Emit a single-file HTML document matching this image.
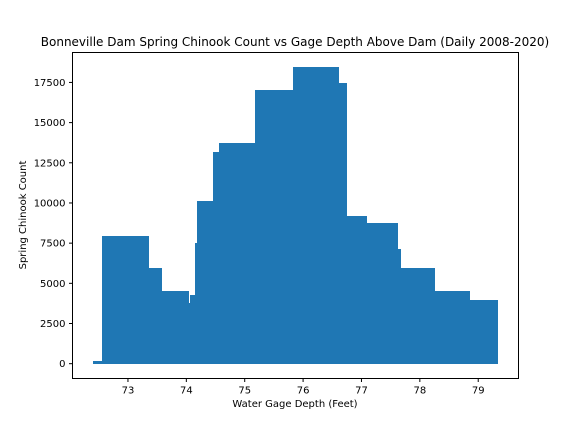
<!DOCTYPE html>
<html><head><meta charset="utf-8"><style>
html,body{margin:0;padding:0;background:#fff;}
svg text{font-family:"DejaVu Sans","Liberation Sans",sans-serif;fill:#000;}
</style></head><body>
<svg id="chart" width="576" height="432" viewBox="0 0 576 432" xmlns="http://www.w3.org/2000/svg">
<rect x="0" y="0" width="576" height="432" fill="#fff"/>
<text x="295" y="46" font-size="12" text-anchor="middle">Bonneville Dam Spring Chinook Count vs Gage Depth Above Dam (Daily 2008-2020)</text>
<g id="bars" shape-rendering="crispEdges"></g>
<g id="xticks"></g>
<g id="yticks"></g>
<rect x="72.5" y="52.5" width="446" height="326" fill="none" stroke="#000" stroke-width="1"/>
<text x="295" y="407" font-size="10" text-anchor="middle">Water Gage Depth (Feet)</text>
<text transform="translate(26,215) rotate(-90)" font-size="10" text-anchor="middle">Spring Chinook Count</text>
</svg>
<script>
const depths = [72.80, 72.96, 73.18, 73.64, 73.69, 74.47, 74.55, 74.58, 74.85, 74.96, 75.57, 76.22, 76.36, 76.69, 77.23, 77.28, 77.86, 78.46, 78.94];
const counts = [190, 7970, 5980, 4550, 3800, 4300, 7540, 10150, 13200, 13700, 17050, 18440, 17440, 9220, 8780, 7160, 5980, 4550, 3990];
const xTicks = [73, 74, 75, 76, 77, 78, 79];
const yTicks = [0, 2500, 5000, 7500, 10000, 12500, 15000, 17500];
const barWidth = 0.8;

const NS = "http://www.w3.org/2000/svg";
const L = 72.5, R = 518.5, T = 52.5, B = 378.5;
const xMin = 72.05, xMax = 79.69, yMin = -922, yMax = 19362;
function xs(v){ return L + (v - xMin) / (xMax - xMin) * (R - L); }
function ys(v){ return B - (v - yMin) / (yMax - yMin) * (B - T); }

const gb = document.getElementById('bars');
depths.forEach((d, i) => {
  const r = document.createElementNS(NS, 'rect');
  const x0 = Math.round(xs(d - barWidth / 2)), x1 = Math.round(xs(d + barWidth / 2));
  const y0 = Math.round(ys(counts[i])), y1 = Math.round(ys(0));
  r.setAttribute('x', x0);
  r.setAttribute('width', x1 - x0);
  r.setAttribute('y', y0);
  r.setAttribute('height', y1 - y0);
  r.setAttribute('fill', '#1f77b4');
  
  
  gb.appendChild(r);
});

const gx = document.getElementById('xticks');
xTicks.forEach(t => {
  const x = xs(t);
  const l = document.createElementNS(NS, 'line');
  l.setAttribute('x1', x); l.setAttribute('x2', x);
  l.setAttribute('y1', B); l.setAttribute('y2', B + 3.5);
  l.setAttribute('stroke', '#000');
  
  
  gx.appendChild(l);
  const tx = document.createElementNS(NS, 'text');
  tx.setAttribute('x', x); tx.setAttribute('y', B + 15);
  tx.setAttribute('font-size', '10'); tx.setAttribute('text-anchor', 'middle');
  tx.textContent = t;
  
  
  gx.appendChild(tx);
});

const gy = document.getElementById('yticks');
yTicks.forEach(t => {
  const y = ys(t);
  const l = document.createElementNS(NS, 'line');
  l.setAttribute('x1', L - 3.5); l.setAttribute('x2', L);
  l.setAttribute('y1', y); l.setAttribute('y2', y);
  l.setAttribute('stroke', '#000');
  
  
  gy.appendChild(l);
  const tx = document.createElementNS(NS, 'text');
  tx.setAttribute('x', L - 7); tx.setAttribute('y', y + 3.5);
  tx.setAttribute('font-size', '10'); tx.setAttribute('text-anchor', 'end');
  tx.textContent = t;
  
  
  gy.appendChild(tx);
});
</script>
</body></html>
